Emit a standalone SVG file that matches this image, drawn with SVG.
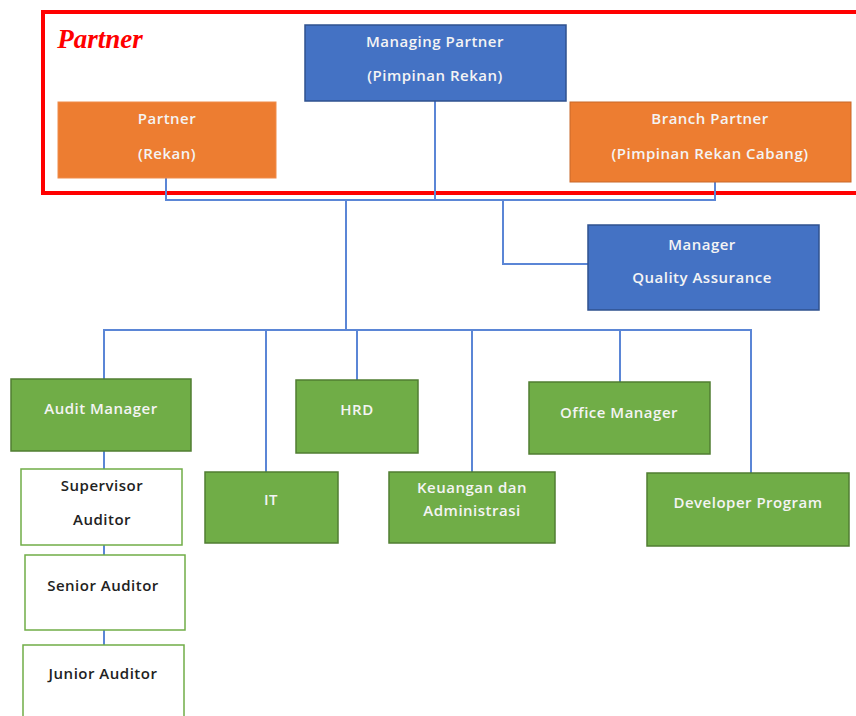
<svg xmlns="http://www.w3.org/2000/svg" width="856" height="716" viewBox="0 0 856 716">
<style>
.blue{fill:#4472C4;stroke:#2F528F;stroke-width:1.5}
.orange{fill:#ED7D31;stroke:#C8692A;stroke-width:1}
.green{fill:#70AD47;stroke:#507E32;stroke-width:1.5}
.white{fill:#FFFFFF;stroke:#70AD47;stroke-width:1.5}
text{font-family:"Open Sans","Noto Sans",sans-serif;font-size:15px;font-weight:600;letter-spacing:0.5px;text-anchor:middle;dominant-baseline:central}
.lt{fill:#F4F4F4}
.dk{fill:#222222}
.con{fill:none;stroke:#5B86D6;stroke-width:2}
</style>
<rect width="856" height="716" fill="#FFFFFF"/>
<g id="partner-frame">
<rect x="43" y="12" width="820" height="181" fill="none" stroke="#FF0000" stroke-width="4"/>
<text x="100" y="39" style="font-family:'Liberation Serif',serif;font-size:27px;font-style:italic;font-weight:bold;letter-spacing:0;fill:#FF0000">Partner</text>
</g>
<g id="connectors">
<path class="con" d="M166 178V200H715V182"/>
<path class="con" d="M435 101V200"/>
<path class="con" d="M346 200V330"/>
<path class="con" d="M503 200V264H588"/>
<path class="con" d="M104 379V330H751V473"/>
<path class="con" d="M266 330V472"/>
<path class="con" d="M357 330V380"/>
<path class="con" d="M472 330V472"/>
<path class="con" d="M620 330V382"/>
<path class="con" d="M104 451V469"/>
<path class="con" d="M104 545V555"/>
<path class="con" d="M104 630V645"/>
</g>
<g id="managing-partner">
<rect class="blue" x="305" y="25" width="261" height="76"/>
<text class="lt" x="435" y="41">Managing Partner</text>
<text class="lt" x="435" y="75">(Pimpinan Rekan)</text>
</g>
<g id="partner-rekan">
<rect class="orange" x="58" y="102" width="218" height="76" style="stroke:#F08C4A"/>
<text class="lt" x="167" y="118">Partner</text>
<text class="lt" x="167" y="153">(Rekan)</text>
</g>
<g id="branch-partner">
<rect class="orange" x="570" y="102" width="281" height="80"/>
<text class="lt" x="710" y="118">Branch Partner</text>
<text class="lt" x="710" y="153">(Pimpinan Rekan Cabang)</text>
</g>
<g id="qa-manager">
<rect class="blue" x="588" y="225" width="231" height="85"/>
<text class="lt" x="702" y="244">Manager</text>
<text class="lt" x="702" y="277">Quality Assurance</text>
</g>
<g id="audit-manager">
<rect class="green" x="11" y="379" width="180" height="72"/>
<text class="lt" x="101" y="408">Audit Manager</text>
</g>
<g id="hrd">
<rect class="green" x="296" y="380" width="122" height="73"/>
<text class="lt" x="357" y="409">HRD</text>
</g>
<g id="office-manager">
<rect class="green" x="529" y="382" width="181" height="72"/>
<text class="lt" x="619" y="412">Office Manager</text>
</g>
<g id="it">
<rect class="green" x="205" y="472" width="133" height="71"/>
<text class="lt" x="271" y="499">IT</text>
</g>
<g id="keuangan">
<rect class="green" x="389" y="472" width="166" height="71"/>
<text class="lt" x="472" y="487">Keuangan dan</text>
<text class="lt" x="472" y="510">Administrasi</text>
</g>
<g id="developer-program">
<rect class="green" x="647" y="473" width="202" height="73"/>
<text class="lt" x="748" y="502">Developer Program</text>
</g>
<g id="supervisor-auditor">
<rect class="white" x="21" y="469" width="161" height="76"/>
<text class="dk" x="102" y="485">Supervisor</text>
<text class="dk" x="102" y="519">Auditor</text>
</g>
<g id="senior-auditor">
<rect class="white" x="25" y="555" width="160" height="75"/>
<text class="dk" x="103" y="585">Senior Auditor</text>
</g>
<g id="junior-auditor">
<rect class="white" x="23" y="645" width="161" height="80"/>
<text class="dk" x="103" y="673">Junior Auditor</text>
</g>
</svg>
